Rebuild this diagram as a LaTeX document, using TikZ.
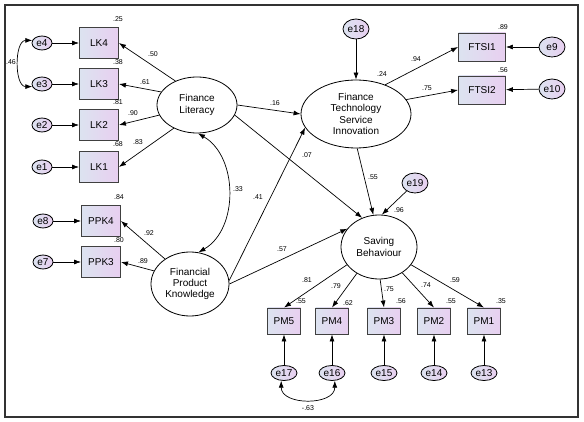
\documentclass[tikz,border=0pt]{standalone}
\usepackage{fontspec}
\setmainfont{Liberation Sans}
\usetikzlibrary{shapes.geometric, arrows.meta}

\definecolor{boxtop}{HTML}{DCE3F0}
\definecolor{boxbot}{HTML}{E8CFF0}

\begin{document}
\begin{tikzpicture}[x=1pt, y=-1pt,
  obs/.style={draw=black!75, line width=0.9pt, left color=boxtop, right color=boxbot,
    minimum width=39pt, minimum height=31pt, inner sep=0pt, font=\fontsize{10}{11}\selectfont},
  lat/.style={ellipse, draw, line width=0.8pt, fill=white, inner sep=0pt, align=center,
    font=\fontsize{10}{11.3}\selectfont},
  err/.style={ellipse, draw, line width=0.8pt, left color=boxtop, right color=boxbot,
    inner sep=0pt, font=\fontsize{10}{11}\selectfont},
  reg/.style={-{Latex[length=7pt,width=5pt]}, line width=0.7pt},
  cov/.style={{Latex[length=7pt,width=5pt]}-{Latex[length=7pt,width=5pt]}, line width=0.7pt},
  lbl/.style={font=\fontsize{7}{8}\selectfont, inner sep=0pt}]
  % Frame
  \useasboundingbox (0,0) rectangle (584,422);
  \fill[white] (0,0) rectangle (584,422);
  \draw[line width=1.5pt, black!80] (5,5) rectangle (578,417);
  % Latent variables
  \node[lat, minimum width=80pt, minimum height=56pt] (FL) at (197,105) {Finance\\Literacy};
  \node[lat, minimum width=78pt, minimum height=64pt] (FPK) at (190,284) {Financial\\Product\\Knowledge};
  \node[lat, minimum width=110pt, minimum height=68pt] (FTSI) at (356,114) {Finance\\Technology\\Service\\Innovation};
  \node[lat, minimum width=76pt, minimum height=64pt] (SB) at (379,247) {Saving\\Behaviour};
  % Finance literacy indicators
  \node[obs] (LK4) at (99,43) {LK4};
  \node[obs] (LK3) at (99,84) {LK3};
  \node[obs] (LK2) at (99,125) {LK2};
  \node[obs] (LK1) at (99,167) {LK1};
  \node[err, minimum width=20pt, minimum height=14pt] (e4) at (42,43) {e4};
  \node[err, minimum width=20pt, minimum height=14pt] (e3) at (42,84) {e3};
  \node[err, minimum width=20pt, minimum height=14pt] (e2) at (42,125) {e2};
  \node[err, minimum width=20pt, minimum height=14pt] (e1) at (42,167) {e1};
  % Product knowledge indicators
  \node[obs] (PPK4) at (101,221) {PPK4};
  \node[obs] (PPK3) at (101,262) {PPK3};
  \node[err, minimum width=20pt, minimum height=14pt] (e8) at (43,221) {e8};
  \node[err, minimum width=20pt, minimum height=14pt] (e7) at (43,262) {e7};
  % Fintech indicators
  \node[obs, minimum width=47pt, minimum height=28pt] (FTSI1) at (482,47) {FTSI1};
  \node[obs, minimum width=47pt, minimum height=28pt] (FTSI2) at (482,90) {FTSI2};
  \node[err, minimum width=26pt, minimum height=20pt] (e9) at (552,47) {e9};
  \node[err, minimum width=26pt, minimum height=20pt] (e10) at (552,89) {e10};
  \node[err, minimum width=26pt, minimum height=20pt] (e18) at (356,29) {e18};
  \node[err, minimum width=26pt, minimum height=20pt] (e19) at (415,183) {e19};
  % Saving behaviour indicators
  \foreach \n/\x [count=\k from 13] in {1/484, 2/434, 3/384, 4/332, 5/284} {
    \node[obs, minimum width=33pt, minimum height=26pt] (PM\n) at (\x,321) {PM\n};
    \node[err, minimum width=26pt, minimum height=15pt] (e\k) at (\x,373) {e\k};
    \draw[reg] (e\k) -- (PM\n);
  }
  % Error terms
  \draw[reg] (e4) -- (LK4);
  \draw[reg] (e3) -- (LK3);
  \draw[reg] (e2) -- (LK2);
  \draw[reg] (e1) -- (LK1);
  \draw[reg] (e8) -- (PPK4);
  \draw[reg] (e7) -- (PPK3);
  \draw[reg] (e9) -- (FTSI1);
  \draw[reg] (e10) -- (FTSI2);
  \draw[reg] (e18) -- (FTSI);
  \draw[reg] (e19) -- (SB.85);
  % Loadings
  \draw[reg] (FL.132) -- (LK4.east);
  \draw[reg] (FL.160) -- (LK3.east);
  \draw[reg] (FL.195) -- (LK2.east);
  \draw[reg] (FL.225) -- (LK1.east);
  \draw[reg] (FPK.135) -- (PPK4.east);
  \draw[reg] (FPK.160) -- (PPK3.east);
  \draw[reg] (FTSI.45) -- (FTSI1.west);
  \draw[reg] (FTSI.16) -- (FTSI2.west);
  \draw[reg] (SB.209) -- (PM5.north);
  \draw[reg] (SB.230) -- (PM4.north);
  \draw[reg] (SB.-88) -- (PM3.north);
  \draw[reg] (SB.-48) -- (PM2.north);
  \draw[reg] (SB.-29) -- (PM1.north);
  % Structural paths
  \draw[reg] (FL.east) -- (FTSI.west);
  \draw[reg] (FL.-15) -- (SB.120);
  \draw[reg] (FPK.5) -- (FTSI.195);
  \draw[reg] (FPK.0) -- (SB.150);
  \draw[reg] (FTSI.-88) -- (SB.100);
  % Covariances
  \draw[cov] (FL.-88) to[out=-30, in=30] (FPK.75);
  \draw[cov] (e4.165) to[out=180, in=180] (e3.195);
  \draw[cov] (e17.250) to[out=-90, in=-90, looseness=1.2] (e16.290);
  % Estimates
  \foreach \x/\y/\t [count=\i] in {118/19/.25, 118/62/.38, 118/102/.81, 118/144/.68,
      11/62/.46, 153/54/.50, 145/82/.61, 133/113/.90, 138/142/.83, 119/197/.84,
      119/240/.80, 149/233/.92, 143/261/.89, 238/189/.33, 258/197/.41, 282/249/.57,
      275/103/.16, 307/155/.07, 373/177/.55, 382/74/.24, 416/59/.94, 427/88/.75,
      503/27/.89, 503/70/.56, 399/210/.96, 307/280/.81, 336/286/.79, 389/289/.75,
      426/285/.74, 455/280/.59, 301/301/.55, 348/303/.62, 401/301/.56, 451/301/.55,
      501/301/.35, 308/408/-.63}
    \node[lbl] (est\i) at (\x,\y) {\t};
\end{tikzpicture}
\end{document}
